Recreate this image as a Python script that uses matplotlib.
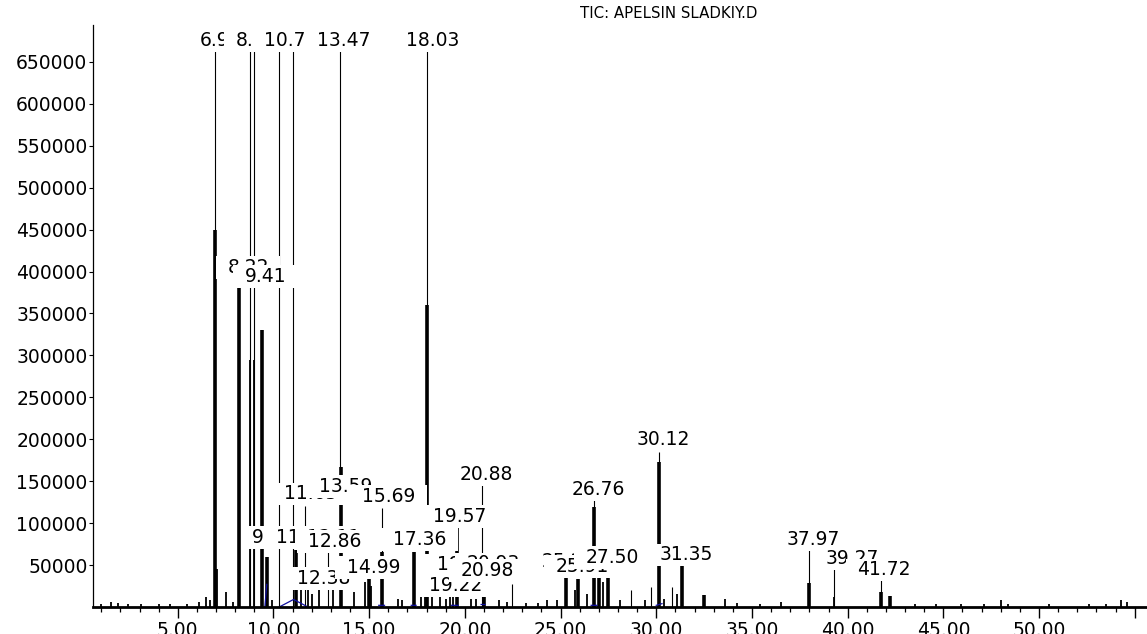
import matplotlib.pyplot as plt
import numpy as np
from matplotlib.path import Path

plt.rcParams['font.family'] = ['DejaVu Sans']

# narrow tops of peaks (off-scale ones drawn up to the top of the display)
spike_rt = [6.95, 8.77, 8.98, 10.29, 11.02, 11.65, 12.86, 13.47, 15.69, 18.03,
            20.88, 22.45, 26.76, 28.7, 29.7, 30.12, 30.8, 37.97, 39.27, 41.72]
spike_h = [665000, 665000, 665000, 665000, 665000, 120000, 65000, 665000, 118000, 665000,
           145000, 28000, 130000, 20000, 24000, 185000, 24000, 70000, 46000, 35000]

# broad bodies of the peaks
body_rt = [6.95, 8.22, 9.41, 9.65, 11.2, 13.55, 14.99, 15.69, 17.36,
           18.03, 19.57, 20.98, 25.3, 25.9, 26.76, 27.0, 27.5, 30.12, 31.35,
           32.5, 37.97, 41.72, 42.2]
body_h = [450000, 382000, 330000, 60000, 68000, 167000, 36000, 65000, 65000,
          360000, 95000, 28000, 36000, 33000, 119000, 36000, 38000, 173000, 50000,
          14000, 29000, 18000, 13000]

# small peaks and baseline noise
minor_rt = [1.0, 1.5, 1.9, 2.4, 3.1, 4.0, 4.6, 5.5, 6.1, 6.45, 6.7, 7.05, 7.5, 7.9,
            8.77, 8.98, 9.9, 11.45, 11.8, 12.0, 12.38, 13.1, 14.2, 14.8, 15.1, 16.5,
            16.7, 17.7, 17.9, 18.3, 18.7, 19.0, 19.22, 19.4, 20.3, 20.6, 21.8, 22.2,
            23.2, 23.8, 24.3, 24.8, 25.75, 26.4, 27.2, 28.1, 29.4, 30.4, 31.1, 33.6,
            34.2, 35.4, 36.5, 39.27, 43.5, 44.6, 45.9, 47.1, 48.0, 48.4, 50.5, 52.6,
            53.5, 54.3, 54.6]
minor_h = [4000, 6000, 5000, 3000, 3000, 3000, 3000, 4000, 6000, 12000, 8000, 45000, 18000, 6000,
           295000, 295000, 8000, 30000, 22000, 15000, 20000, 20000, 18000, 30000, 25000, 10000,
           8000, 15000, 12000, 14000, 12000, 10000, 15000, 12000, 10000, 10000, 8000, 6000,
           5000, 5000, 8000, 8000, 20000, 15000, 30000, 8000, 8000, 10000, 15000, 10000,
           5000, 4000, 6000, 12000, 4000, 4000, 4000, 3000, 8000, 3000, 3000, 4000,
           4000, 8000, 6000]

# integration baseline (blue)
base_rt = [9.55, 9.65, np.nan, 10.3, 11.05, 11.8, np.nan, 15.5, 15.8, np.nan, 17.2, 17.45,
           np.nan, 19.3, 19.65, np.nan, 20.85, 21.05, np.nan, 26.6, 26.9, np.nan, 30.0, 30.3]
base_v = [0, 27000, np.nan, 0, 9000, 0, np.nan, 2000, 2000, np.nan, 2000, 2000,
          np.nan, 2000, 2000, np.nan, 3000, 3000, np.nan, 2000, 2000, np.nan, 2000, 4000]

# retention time labels: text and where they sit (drawn in this order)
lab_text = ["6.95", "8.78", "10.74", "13.47", "18.03",
            "8.22", "9.41", "9.62", "11.21", "12.11", "12.86",
            "11.65", "13.59", "15.69", "12.38", "14.99", "17.36", "19.57", "20.88",
            "19.22", "19.41", "20.93", "20.98", "25.29", "25.91", "27.50", "26.76",
            "30.12", "31.35", "37.97", "39.27", "41.72"]
lab_rt = [7.21, 9.12, 10.89, 13.66, 18.31,
          8.67, 9.59, 9.98, 11.52, 13.14, 13.22,
          11.94, 13.77, 16.01, 12.64, 15.23, 17.63, 19.75, 21.11,
          19.51, 19.93, 21.50, 21.19, 25.42, 26.12, 27.72, 26.99,
          30.38, 31.58, 38.22, 40.26, 41.90]
lab_v = [675000, 675000, 675000, 675000, 675000,
         404500, 394400, 82900, 82900, 83000, 78200,
         134800, 143800, 131900, 34000, 47100, 80500, 108000, 157500,
         26000, 50100, 51300, 43600, 54300, 48300, 59100, 139600,
         199300, 62100, 79900, 57300, 44200]


def label_box(x0, y0, width, height, mutation_size):
    # white mask wider than the text, as the data system draws it
    px = 0.62 * mutation_size
    py = 0.1 * mutation_size
    verts = [(x0 - px, y0 - py), (x0 + width + px, y0 - py),
             (x0 + width + px, y0 + height + py), (x0 - px, y0 + height + py),
             (x0 - px, y0 - py)]
    return Path(verts, [Path.MOVETO, Path.LINETO, Path.LINETO, Path.LINETO, Path.CLOSEPOLY])


fig = plt.figure(figsize=(11.47, 6.34), dpi=100)
ax = fig.add_axes([93 / 1147, 27 / 634, 1054 / 1147, 582 / 634])

ax.vlines(minor_rt, 0, minor_h, colors='black', linewidth=1.3)
ax.vlines(body_rt, 0, body_h, colors='black', linewidth=2.6)
ax.vlines(spike_rt, 0, spike_h, colors='black', linewidth=0.8)
ax.plot(base_rt, base_v, color='#1010a0', linewidth=0.9)

for t, x, y in zip(lab_text, lab_rt, lab_v):
    ax.text(x, y, t, ha='center', va='center', fontsize=13.5, color='black',
            bbox=dict(boxstyle=label_box, facecolor='white', edgecolor='none'), zorder=5)

ax.set_xlim(0.57, 55.64)
ax.set_ylim(0, 694000)

ax.set_xticks(np.arange(5, 56, 5))
ax.set_xticklabels(["%.2f" % v for v in np.arange(5, 51, 5)] + [""])
ax.set_xticks(np.arange(1, 56, 1), minor=True)
ax.set_yticks(np.arange(50000, 650001, 50000))
ax.set_yticklabels([str(v) for v in range(50000, 650001, 50000)])

ax.tick_params(axis='x', which='major', length=8, width=1.0, pad=2, labelsize=13.5)
ax.tick_params(axis='x', which='minor', length=3.5, width=0.9)
ax.tick_params(axis='y', which='major', length=3, width=0.8, pad=1, labelsize=13.5)

ax.spines['top'].set_visible(False)
ax.spines['right'].set_visible(False)
ax.spines['left'].set_linewidth(0.9)
ax.spines['bottom'].set_linewidth(2.0)

fig.text(757 / 1147, 1 - 13 / 634, "TIC: APELSIN SLADKIY.D", ha='right', va='center',
         fontsize=10.8)

fig.savefig("out.png", dpi=100)
